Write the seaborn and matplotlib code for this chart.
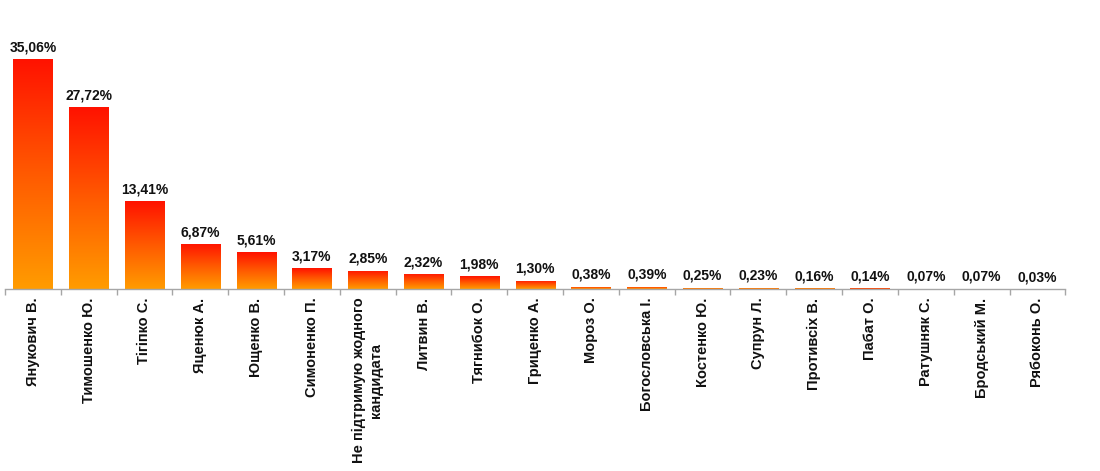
import numpy as np
import pandas as pd
import matplotlib
matplotlib.use("Agg")
import matplotlib.pyplot as plt
import seaborn as sns
from matplotlib.colors import LinearSegmentedColormap

# ------------------------------------------
# DATA
# ------------------------------------------

candidates = [
    "Янукович В.", "Тимошенко Ю.", "Тігіпко С.", "Яценюк А.", "Ющенко В.",
    "Симоненко П.", "Не підтримую жодного\nкандидата", "Литвин В.",
    "Тягнибок О.", "Гриценко А.", "Мороз О.", "Богословська І.",
    "Костенко Ю.", "Супрун Л.", "Противсіх В.", "Пабат О.", "Ратушняк С.",
    "Бродський М.", "Рябоконь О.",
]
shares = [35.06, 27.72, 13.41, 6.87, 5.61, 3.17, 2.85, 2.32, 1.98, 1.30,
          0.38, 0.39, 0.25, 0.23, 0.16, 0.14, 0.07, 0.07, 0.03]
share_labels = [f"{v:.2f}%".replace(".", ",") for v in shares]

df = pd.DataFrame({"candidate": candidates, "share": shares})

# ------------------------------------------
# PLOT
# ------------------------------------------

sns.set_style("white")
plt.rcParams["font.family"] = ["Liberation Sans", "DejaVu Sans"]

fig = plt.figure(figsize=(11, 4.71), dpi=100)
ax = fig.add_axes([0.0045, 0.386, 0.964, 0.529])

sns.barplot(data=df, x="candidate", y="share", color="#ff5500",
            width=0.7, ax=ax, saturation=1)

# red-to-orange vertical gradient inside each bar
grad = LinearSegmentedColormap.from_list("ro", ["#ff9c00", "#ff5a00", "#ff1200"])
gimg = np.linspace(0, 1, 256).reshape(-1, 1)
for p in ax.patches:
    x0, y0 = p.get_x(), p.get_y()
    w, h = p.get_width(), p.get_height()
    p.set_facecolor("none")
    p.set_edgecolor("none")
    if h <= 0:
        continue
    im = ax.imshow(gimg, cmap=grad, origin="lower", aspect="auto",
                   extent=[x0, x0 + w, y0, y0 + h], zorder=2)
    im.set_clip_path(p)

for i, (v, lab) in enumerate(zip(shares, share_labels)):
    ax.text(i, v + 0.75, lab, ha="center", va="bottom",
            fontsize=10, fontweight="bold", color="#111111")

ax.set_xlim(-0.5, len(candidates) - 0.5)
ax.set_ylim(0, 38)
ax.set_xlabel("")
ax.set_ylabel("")
ax.set_yticks([])

for s in ["top", "right", "left"]:
    ax.spines[s].set_visible(False)
ax.spines["bottom"].set_color("#a6a6a6")
ax.spines["bottom"].set_linewidth(1.0)

ax.set_xticks(range(len(candidates)))
ax.set_xticklabels(candidates, rotation=90, fontsize=10.5, fontweight="bold",
                   color="#111111", ha="center", va="top", multialignment="center",
                   linespacing=1.3)
ax.tick_params(axis="x", which="major", length=0, pad=6)
ax.set_xticks(np.arange(-0.5, len(candidates)), minor=True)
ax.tick_params(axis="x", which="minor", bottom=True, length=4, color="#a6a6a6",
               width=1, direction="out")

fig.savefig("out.png", dpi=100)
